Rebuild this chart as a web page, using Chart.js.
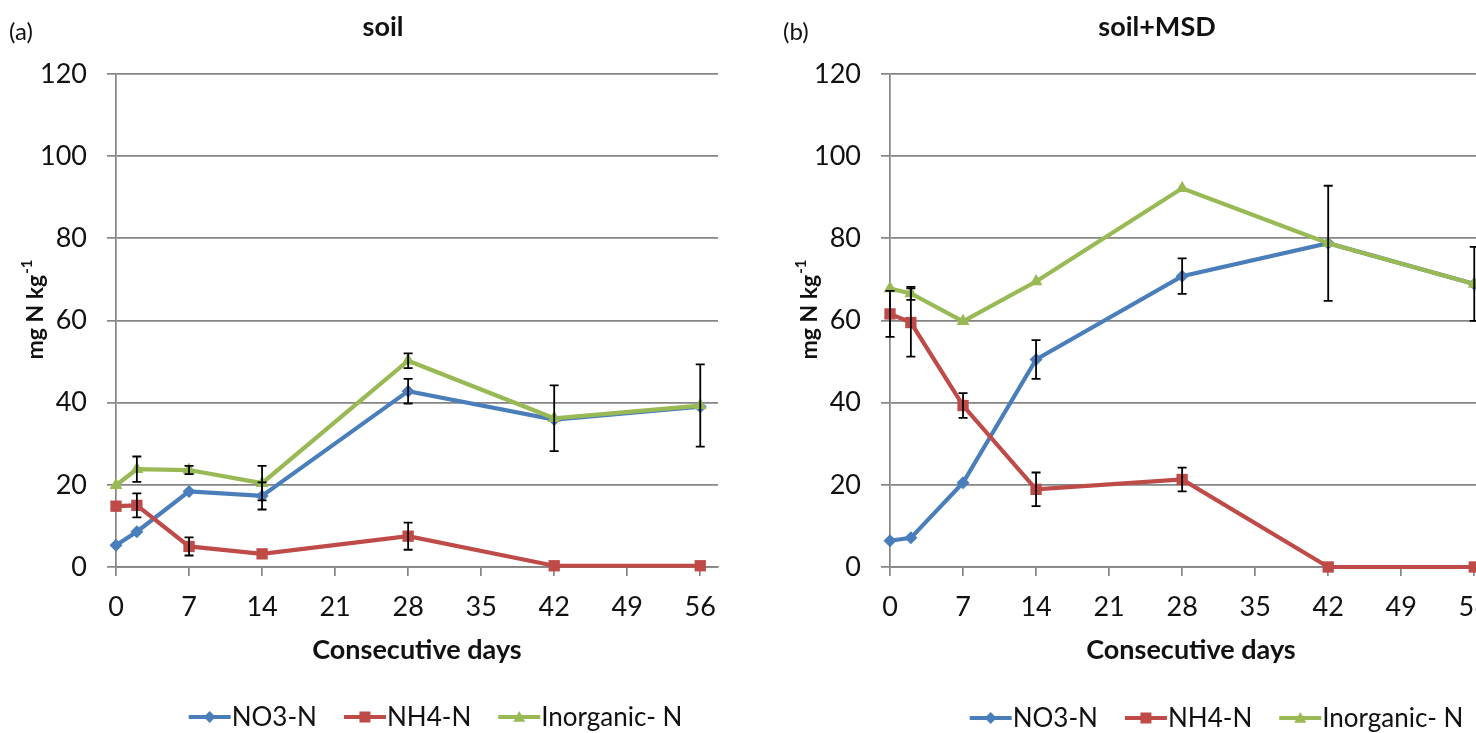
<!DOCTYPE html>
<html>
<head>
<meta charset="utf-8">
<title>Soil nitrogen</title>
<script src="https://cdn.jsdelivr.net/npm/chart.js@4.4.1/dist/chart.umd.min.js"></script>
<style>
    html, body { margin: 0; padding: 0; background: #fff; }
    body { width: 1476px; height: 733px; overflow: hidden; position: relative; }
    canvas { position: absolute; top: 0; }
    #chartA { left: 0; }
    #chartB { left: 774px; }
</style>
</head>
<body>
<canvas id="chartA" width="800" height="733"></canvas>
<canvas id="chartB" width="800" height="733"></canvas>
<script>
// ---- data ----
const days = [0, 2, 7, 14, 28, 42, 56];
const xTicks = [0, 7, 14, 21, 28, 35, 42, 49, 56];
const yTicks = [0, 20, 40, 60, 80, 100, 120];
const seriesNames = ['NO3-N', 'NH4-N', 'Inorganic- N'];

// (a) soil
const soilNO3 = [5.3, 8.6, 18.4, 17.3, 42.8, 35.9, 39.0];
const soilNH4 = [14.8, 15.0, 5.0, 3.2, 7.5, 0.3, 0.3];
const soilInorg = [19.9, 23.8, 23.6, 20.4, 50.2, 36.2, 39.3];
const soilNO3Err = [0, 0, 0, 3.3, 3.0, 0, 0];
const soilNH4Err = [0, 2.9, 2.2, 0, 3.3, 0, 0];
const soilInorgErr = [0, 3.1, 1.0, 4.2, 1.8, 8.0, 10.0];

// (b) soil+MSD
const msdNO3 = [6.4, 7.1, 20.5, 50.5, 70.8, 78.8, 68.9];
const msdNH4 = [61.6, 59.5, 39.3, 18.9, 21.3, 0, 0];
const msdInorg = [67.8, 66.6, 59.8, 69.5, 92.2, 78.8, 68.9];
const msdNO3Err = [0, 0, 0, 4.7, 4.3, 0, 0];
const msdNH4Err = [5.6, 8.3, 3.0, 4.1, 2.9, 0, 0];
const msdInorgErr = [0, 1.6, 0, 0, 0, 14.0, 9.0];

// ---- style ----
const FONT = 'Lato, "Open Sans", sans-serif';
const gridColor = '#858585';
const textColor = '#111';
const colors = ['#4a7ebb', '#be4b48', '#98b954'];
const styles = ['rectRot', 'rect', 'triangle'];
const radii = [6.5, 8, 7.5];

const toPoints = vals => days.map((d, i) => ({ x: d, y: vals[i] }));

// error bars drawn through the chart scales
const errorBarPlugin = {
    id: 'errorBars',
    afterDatasetsDraw(chart) {
        const { ctx, scales: { x, y } } = chart;
        ctx.save();
        ctx.strokeStyle = '#000';
        ctx.lineWidth = 1.8;
        chart.data.datasets.forEach(ds => {
            if (!ds.errors) return;
            ds.data.forEach((p, j) => {
                const e = ds.errors[j];
                if (!e) return;
                const px = x.getPixelForValue(p.x);
                const top = y.getPixelForValue(p.y + e);
                const bot = y.getPixelForValue(p.y - e);
                ctx.beginPath();
                ctx.moveTo(px, top); ctx.lineTo(px, bot);
                ctx.moveTo(px - 4.5, top); ctx.lineTo(px + 4.5, top);
                ctx.moveTo(px - 4.5, bot); ctx.lineTo(px + 4.5, bot);
                ctx.stroke();
            });
        });
        ctx.restore();
    }
};

function drawMarker(ctx, style, cx, cy, r) {
    ctx.beginPath();
    if (style === 'rectRot') {
        ctx.moveTo(cx, cy - r); ctx.lineTo(cx + r, cy); ctx.lineTo(cx, cy + r); ctx.lineTo(cx - r, cy);
    } else if (style === 'rect') {
        ctx.rect(cx - r, cy - r, 2 * r, 2 * r);
    } else {
        ctx.moveTo(cx, cy - r); ctx.lineTo(cx + r, cy + r * 0.8); ctx.lineTo(cx - r, cy + r * 0.8);
    }
    ctx.closePath();
    ctx.fill();
}

// panel letter, title, y-axis label with superscript, legend
const panelPlugin = {
    id: 'panelDecor',
    afterDraw(chart, args, opts) {
        const ctx = chart.ctx;
        ctx.save();
        ctx.fillStyle = textColor;
        ctx.textBaseline = 'middle';

        ctx.font = '24px ' + FONT;
        ctx.textAlign = 'left';
        ctx.fillText(opts.letter, 9, 32);

        ctx.font = 'bold 27px ' + FONT;
        ctx.textAlign = 'center';
        ctx.fillText(opts.title, opts.titleX, 27);

        // y axis title
        ctx.save();
        ctx.translate(36, 310);
        ctx.rotate(-Math.PI / 2);
        const main = 'mg N kg';
        ctx.font = 'bold 23px ' + FONT;
        const w1 = ctx.measureText(main).width;
        ctx.font = 'bold 15px ' + FONT;
        const w2 = ctx.measureText('-1').width;
        ctx.textAlign = 'left';
        ctx.font = 'bold 23px ' + FONT;
        ctx.fillText(main, -(w1 + w2) / 2, 0);
        ctx.font = 'bold 15px ' + FONT;
        ctx.fillText('-1', -(w1 + w2) / 2 + w1 + 1, -9);
        ctx.restore();

        // legend
        ctx.font = '26px ' + FONT;
        const seg = 42, gap = 28;
        const items = chart.data.datasets.map(ds => ({ ds, w: seg + ctx.measureText(ds.label).width }));
        const total = items.reduce((s, it) => s + it.w, 0) + gap * (items.length - 1);
        let lx = opts.legendX - total / 2;
        const ly = opts.legendY;
        items.forEach(({ ds, w }) => {
            ctx.strokeStyle = ds.borderColor;
            ctx.fillStyle = ds.borderColor;
            ctx.lineWidth = 4;
            ctx.beginPath();
            ctx.moveTo(lx, ly); ctx.lineTo(lx + seg, ly);
            ctx.stroke();
            drawMarker(ctx, ds.pointStyle, lx + seg / 2, ly, ds.pointStyle === 'rect' ? 5.5 : 6);
            ctx.fillStyle = textColor;
            ctx.textAlign = 'left';
            ctx.fillText(ds.label, lx + seg + 1, ly + 1);
            lx += w + gap;
        });
        ctx.restore();
    }
};

function makeChart(id, values, errors, decor) {
    const datasets = values.map((vals, i) => ({
        label: seriesNames[i],
        data: toPoints(vals),
        errors: errors[i],
        borderColor: colors[i],
        backgroundColor: colors[i],
        borderWidth: 4.2,
        pointStyle: styles[i],
        pointRadius: radii[i],
        pointBorderWidth: 0,
        pointHoverRadius: radii[i],
        tension: 0,
        clip: false,
        order: 3 - i
    }));

    return new Chart(document.getElementById(id), {
        type: 'line',
        data: { datasets },
        options: {
            responsive: false,
            animation: false,
            layout: { padding: { top: 74, right: 82, bottom: 66, left: 0 } },
            plugins: {
                legend: { display: false },
                title: { display: false },
                tooltip: { enabled: false },
                panelDecor: decor
            },
            scales: {
                x: {
                    type: 'linear',
                    min: 0,
                    max: 57.7,
                    afterBuildTicks: s => { s.ticks = xTicks.map(v => ({ value: v })); },
                    afterFit: s => { s.height = 100; },
                    grid: { drawOnChartArea: false, drawTicks: true, tickLength: 9, color: gridColor, lineWidth: 1.7 },
                    border: { display: true, color: gridColor, width: 1.7 },
                    ticks: { font: { family: FONT, size: 27 }, color: textColor, padding: 15, maxRotation: 0, autoSkip: false },
                    title: {
                        display: true,
                        text: 'Consecutive days',
                        color: textColor,
                        font: { family: FONT, size: 27, weight: 'bold' },
                        padding: { top: 0, bottom: 1 }
                    }
                },
                y: {
                    min: 0,
                    max: 120,
                    afterBuildTicks: s => { s.ticks = yTicks.map(v => ({ value: v })); },
                    afterFit: s => { s.width = 116; },
                    grid: { color: gridColor, lineWidth: 1.7, tickLength: 9 },
                    border: { color: gridColor, width: 1.7 },
                    ticks: { font: { family: FONT, size: 27 }, color: textColor, padding: 20 }
                }
            }
        },
        plugins: [errorBarPlugin, panelPlugin]
    });
}

makeChart('chartA',
    [soilNO3, soilNH4, soilInorg],
    [soilNO3Err, soilNH4Err, soilInorgErr],
    { letter: '(a)', title: 'soil', titleX: 383, legendX: 435, legendY: 717 });

makeChart('chartB',
    [msdNO3, msdNH4, msdInorg],
    [msdNO3Err, msdNH4Err, msdInorgErr],
    { letter: '(b)', title: 'soil+MSD', titleX: 383, legendX: 442, legendY: 718 });
</script>
</body>
</html>
